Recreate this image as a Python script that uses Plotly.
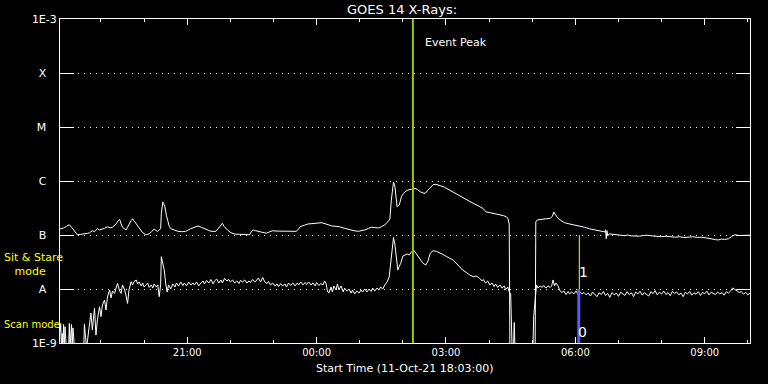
import pandas as pd
import plotly.graph_objects as go

START = "2021-10-11 18:03:00"
END = "2021-10-12 10:03:00"

# Long channel (1-8 A), minutes after start, flux in units of 1e-7 W/m^2
long_min = [0, 5, 9, 13, 17, 20, 24, 29, 34, 38, 41, 45, 48, 52, 55, 59, 62, 66, 70, 73, 76, 78, 81, 83, 85, 87, 90, 92, 94, 96,
            99, 101, 104, 108, 111, 115, 120, 124, 127, 131, 134, 136, 138, 140, 141, 143, 144, 146, 148, 150, 152, 154, 159,
            164, 170, 175, 182, 187, 192, 197, 201, 206, 210, 217, 222, 224, 226, 228, 231, 234, 238, 243, 250, 257, 264, 266,
            269, 272, 275, 281, 287, 292, 296, 302, 308, 315, 322, 329, 332, 334, 340, 345, 352, 358, 364, 370, 374, 378, 384,
            389, 396, 403, 409, 415, 420, 424, 429, 433, 438, 443, 447, 452, 456, 459, 461, 463, 464, 466, 468, 469, 472, 475,
            478, 480, 484, 487, 491, 494, 497, 501, 505, 508, 512, 515, 519, 523, 526, 530, 535, 540, 545, 548, 552, 556, 561,
            565, 570, 575, 580, 585, 589, 591, 593, 598, 603, 608, 612, 617, 621, 623, 625, 626, 661, 662, 664, 670, 676, 682,
            685, 687, 689, 693, 697, 702, 709, 716, 723, 730, 737, 744, 751, 756, 758, 759, 760, 761, 762, 764, 767, 771, 776,
            781, 786, 790, 795, 800, 806, 812, 818, 824, 831, 837, 843, 849, 856, 862, 868, 874, 880, 887, 893, 900, 907, 912,
            916, 920, 925, 930, 934, 939, 945, 950, 955, 960]
long_e7 = [1.29, 1.35, 1.45, 1.55, 1.35, 1.20, 1.01, 1.03, 1.04, 1.07, 1.10, 1.20, 1.15, 1.31, 1.24, 1.28, 1.33, 1.42, 1.36, 1.39,
           1.48, 1.60, 1.85, 1.95, 1.60, 1.39, 1.30, 1.24, 1.40, 1.60, 1.85, 2.00, 1.75, 1.47, 1.28, 1.10, 1.01, 1.05, 1.14, 1.28,
           1.20, 1.17, 1.25, 1.31, 2.5, 4.08, 3.8, 3.34, 2.3, 1.76, 1.45, 1.31, 1.22, 1.17, 1.15, 1.17, 1.31, 1.40, 1.47, 1.38,
           1.31, 1.22, 1.17, 1.17, 1.39, 1.55, 1.65, 1.45, 1.31, 1.20, 1.10, 1.04, 1.03, 1.02, 1.01, 1.15, 1.24, 1.20, 1.17, 1.12,
           1.08, 1.15, 1.20, 1.18, 1.17, 1.16, 1.17, 1.17, 1.30, 1.42, 1.52, 1.60, 1.63, 1.67, 1.69, 1.60, 1.55, 1.47, 1.45, 1.42,
           1.33, 1.24, 1.20, 1.17, 1.20, 1.24, 1.32, 1.39, 1.37, 1.35, 1.42, 1.55, 1.75, 1.98, 4.44, 9.4, 9.6, 7.8, 4.5, 3.34,
           3.59, 5.12, 5.9, 6.33, 6.8, 7.0, 7.2, 7.3, 7.0, 6.33, 6.0, 5.92, 6.81, 7.6, 8.5, 8.7, 8.5, 8.1, 7.65, 7.0, 6.45, 6.1,
           5.74, 5.3, 4.84, 4.45, 4.14, 3.85, 3.59, 3.30, 3.07, 2.85, 2.67, 2.60, 2.52, 2.45, 2.37, 2.28, 2.18, 2.04, 1.6, 0.005,
           0.005, 1.75, 1.90, 1.95, 2.0, 2.04, 2.2, 2.67, 2.4, 2.04, 1.85, 1.69, 1.60, 1.54, 1.46, 1.39, 1.30, 1.24, 1.19, 1.15,
           1.14, 1.25, 0.85, 1.20, 0.96, 1.05, 1.04, 1.02, 1.00, 0.99, 0.97, 1.00, 0.96, 0.96, 0.95, 0.98, 0.99, 0.96, 0.94, 0.93,
           0.95, 0.92, 0.91, 0.93, 0.90, 0.91, 0.93, 0.90, 0.91, 0.88, 0.83, 0.82, 0.81, 0.84, 0.83, 0.85, 0.93, 1.01, 0.98, 0.99,
           0.98, 0.99]

# Short channel (0.5-4 A), minutes after start, flux in units of 1e-8 W/m^2
short_min = [0, 1, 2, 3, 4, 5, 6, 7, 8, 9, 12, 13, 14, 15, 16, 17, 18, 19, 20, 33, 34, 35, 37, 40, 43, 45, 48, 50, 52, 55, 57,
             59, 62, 64, 66, 69, 71, 73, 76, 78, 80, 83, 85, 87, 90, 92, 94, 96, 99, 101, 103, 106, 108, 110, 113, 115, 117, 120,
             122, 124, 127, 129, 131, 134, 136, 138, 140, 141, 143, 145, 147, 149, 151, 154, 157, 160, 162, 165, 168, 171, 173,
             176, 179, 182, 185, 187, 190, 193, 196, 199, 201, 204, 207, 210, 213, 215, 218, 221, 224, 226, 229, 232, 235, 237,
             240, 243, 246, 249, 251, 254, 257, 260, 263, 265, 268, 271, 274, 276, 279, 282, 285, 288, 290, 293, 296, 299, 302,
             304, 307, 310, 313, 315, 318, 321, 324, 327, 330, 332, 335, 338, 341, 343, 346, 349, 352, 355, 357, 360, 363, 366,
             368, 370, 372, 374, 377, 379, 381, 384, 386, 388, 391, 394, 396, 399, 402, 405, 407, 410, 413, 416, 419, 421, 424,
             427, 430, 433, 435, 438, 441, 444, 446, 449, 452, 455, 458, 460, 462, 464, 466, 467, 470, 471, 474, 477, 483, 486,
             489, 492, 495, 498, 502, 505, 509, 512, 515, 519, 524, 528, 533, 538, 542, 547, 551, 556, 560, 566, 570, 575, 579,
             584, 587, 589, 592, 595, 598, 601, 604, 606, 609, 612, 615, 618, 620, 623, 625, 627, 629, 631, 632, 633, 658, 659,
             662, 663, 665, 668, 671, 673, 676, 679, 682, 684, 686, 688, 690, 693, 695, 698, 701, 704, 707, 709, 712, 715, 718,
             721, 723, 726, 729, 732, 735, 738, 741, 744, 747, 750, 753, 756, 759, 762, 765, 768, 771, 774, 777, 780, 783, 786,
             789, 792, 795, 798, 801, 804, 807, 810, 813, 816, 819, 822, 825, 828, 831, 834, 837, 840, 843, 846, 849, 852, 855,
             858, 861, 864, 867, 870, 873, 876, 879, 882, 885, 888, 891, 894, 897, 900, 903, 906, 909, 912, 915, 918, 921, 924,
             927, 930, 933, 936, 939, 942, 945, 948, 951, 954, 957, 960]
short_e8 = [0.16, 0.23, 0.08, 0.15, 0.08, 0.22, 0.08, 0.20, 0.12, 0.08, 0.08, 0.23, 0.08, 0.17, 0.22, 0.08, 0.19, 0.13, 0.08, 0.08,
            0.225, 0.153, 0.08, 0.174, 0.359, 0.174, 0.444, 0.14, 0.267, 0.47, 0.307, 0.505, 0.625, 0.408, 0.71, 0.96, 0.68, 0.92,
            0.83, 1.04, 1.27, 0.92, 0.83, 1.19, 0.96, 0.74, 0.54, 0.96, 1.37, 1.19, 1.37, 1.47, 1.24, 1.35, 1.14, 1.29, 1.09, 1.19,
            1.29, 1.07, 1.19, 1.04, 1.24, 1.09, 1.19, 0.72, 1.19, 3.97, 3.16, 2.25, 1.29, 0.88, 1.19, 1.0, 1.24, 1.09, 1.29, 1.14,
            1.35, 1.16, 1.29, 1.14, 1.35, 1.19, 1.29, 1.19, 1.35, 1.14, 1.29, 1.41, 1.24, 1.44, 1.29, 1.5, 1.24, 1.41, 1.53, 1.29,
            1.47, 1.29, 1.58, 1.41, 1.5, 1.35, 1.47, 1.29, 1.41, 1.26, 1.44, 1.35, 1.47, 1.29, 1.41, 1.32, 1.5, 1.35, 1.47, 1.6,
            1.35, 1.63, 1.35, 1.26, 1.38, 1.19, 1.29, 1.14, 1.24, 1.11, 1.26, 1.14, 1.24, 1.09, 1.29, 1.16, 1.29, 1.14, 1.29, 1.19,
            1.35, 1.19, 1.32, 1.21, 1.35, 1.19, 1.29, 1.14, 1.32, 1.16, 1.26, 1.19, 1.41, 1.29, 0.92, 0.84, 1.09, 0.88, 1.14, 0.96,
            1.24, 0.96, 1.14, 0.88, 1.04, 0.92, 1.0, 0.84, 0.96, 0.81, 0.92, 0.84, 0.96, 0.88, 1.0, 0.88, 1.0, 0.9, 1.04, 0.92,
            1.04, 0.96, 1.09, 1.0, 1.19, 1.35, 1.67, 2.78, 5.27, 9.0, 6.52, 5.27, 2.25, 2.45, 2.99, 4.08, 4.44, 4.26, 4.9, 5.27,
            4.64, 4.08, 3.44, 2.99, 2.78, 3.30, 4.58, 5.12, 4.95, 4.70, 4.35, 3.97, 3.67, 3.44, 3.03, 2.52, 2.25, 2.0, 1.82, 1.69,
            1.74, 1.58, 1.41, 1.5, 1.29, 1.41, 1.19, 1.29, 1.11, 1.24, 1.07, 1.19, 1.04, 1.14, 0.98, 1.09, 0.88, 0.83, 0.08, 0.08,
            0.24, 0.08, 0.08, 0.307, 0.96, 1.19, 1.04, 1.14, 1.07, 1.16, 1.04, 1.14, 1.07, 1.14, 1.47, 1.14, 1.29, 1.14, 0.96, 0.86,
            0.92, 0.79, 0.9, 0.81, 0.88, 0.81, 0.92, 0.79, 0.9, 0.81, 0.86, 0.78, 0.84, 0.74, 0.88, 0.80, 0.72, 0.85, 0.79, 0.90,
            0.76, 0.83, 0.70, 0.86, 0.78, 0.84, 0.73, 0.87, 0.80, 0.76, 0.89, 0.79, 0.85, 0.72, 0.88, 0.81, 0.91, 0.77, 0.86, 0.80,
            0.74, 0.89, 0.82, 0.93, 0.78, 0.87, 0.81, 0.92, 0.79, 0.86, 0.75, 0.90, 0.83, 0.88, 0.78, 0.84, 0.72, 0.87, 0.81, 0.90,
            0.77, 0.85, 0.80, 0.89, 0.76, 0.86, 0.82, 0.91, 0.78, 0.87, 0.83, 0.79, 0.88, 0.81, 0.86, 0.77, 0.89, 0.84, 0.92, 1.05,
            0.98, 0.93, 0.86, 0.90, 0.80, 0.87, 0.78, 0.84]

event_peak_time = "2021-10-12 02:14:00"
scan_time = "2021-10-12 06:04:45"
stare_time = "2021-10-12 06:05:30"
levels = [1e-9, 1e-8, 1e-7, 1e-6, 1e-5, 1e-4, 1e-3]
level_labels = ["1E-9", "A", "B", "C", "M", "X", "1E-3"]
x_tick_times = ["2021-10-11 21:00", "2021-10-12 00:00", "2021-10-12 03:00", "2021-10-12 06:00", "2021-10-12 09:00"]
x_tick_text = ["21:00", "00:00", "03:00", "06:00", "09:00"]

t0 = pd.Timestamp(START)
long_t = t0 + pd.to_timedelta(long_min, unit="m")
short_t = t0 + pd.to_timedelta(short_min, unit="m")
long_flux = [v * 1e-7 for v in long_e7]
short_flux = [v * 1e-8 for v in short_e8]

FONT = "DejaVu Sans"
fig = go.Figure()
fig.add_trace(go.Scatter(x=long_t, y=long_flux, mode="lines", line=dict(color="white", width=1), showlegend=False))
fig.add_trace(go.Scatter(x=short_t, y=short_flux, mode="lines", line=dict(color="white", width=1), showlegend=False))
fig.add_trace(go.Scatter(x=[event_peak_time, event_peak_time], y=[levels[0], levels[-1]], mode="lines",
                         line=dict(color="#99CC00", width=2), showlegend=False))
fig.add_trace(go.Scatter(x=[scan_time, scan_time], y=[levels[0], levels[1]], mode="lines",
                         line=dict(color="#5A5AFF", width=3), showlegend=False))
fig.add_trace(go.Scatter(x=[stare_time, stare_time], y=[levels[1], levels[2]], mode="lines",
                         line=dict(color="#FFFF00", width=1), showlegend=False))
# invisible trace so the top (mirror) time axis is drawn with its hourly ticks
fig.add_trace(go.Scatter(x=[START, END], y=[levels[0], levels[0]], mode="lines", xaxis="x2",
                         line=dict(color="rgba(0,0,0,0)", width=0), showlegend=False, hoverinfo="skip"))

nb = "\u00a0"
ytext = [t if len(t) > 1 else t + nb * 3 for t in level_labels]

fig.update_layout(
    width=768, height=384, autosize=False,
    margin=dict(l=60, r=18, t=19, b=41),
    paper_bgcolor="black", plot_bgcolor="black",
    font=dict(family=FONT, color="white", size=11),
    xaxis=dict(type="date", range=[START, END], tickvals=x_tick_times, ticktext=x_tick_text,
               ticks="inside", ticklen=6, tickcolor="white", tickwidth=1,
               minor=dict(dtick=3600000, tick0="2021-10-11 19:00", ticks="inside", ticklen=3,
                          tickcolor="white", showgrid=False),
               showline=True, linecolor="white", linewidth=1, mirror=True,
               showgrid=False, zeroline=False, tickfont=dict(size=10, family=FONT, color="white")),
    xaxis2=dict(type="date", range=[START, END], overlaying="x", side="top", tickvals=x_tick_times,
                showticklabels=False, ticks="inside", ticklen=6, tickcolor="white", tickwidth=1,
                minor=dict(dtick=3600000, tick0="2021-10-11 19:00", ticks="inside", ticklen=3,
                           tickcolor="white", showgrid=False),
                showline=False, showgrid=False, zeroline=False),
    yaxis=dict(type="log", range=[-9, -3], tickvals=levels, ticktext=ytext,
               ticks="inside", ticklen=14, tickcolor="white", tickwidth=1,
               showline=True, linecolor="white", linewidth=1, mirror="ticks",
               showgrid=True, gridcolor="white", gridwidth=1, griddash="1px,5px",
               zeroline=False, tickfont=dict(size=11, family=FONT, color="white")),
    annotations=[
        dict(text="GOES 14 X-Rays:", xref="paper", yref="paper", x=0.4952, y=1.0278, xanchor="center",
             yanchor="middle", showarrow=False, font=dict(size=13, color="white", family=FONT)),
        dict(text="Start Time (11-Oct-21 18:03:00)", xref="paper", yref="paper", x=0.4997, y=-0.0772,
             xanchor="center", yanchor="middle", showarrow=False, font=dict(size=11, color="white", family=FONT)),
        dict(text="Event Peak", xref="x", yref="y", x="2021-10-12 02:28", y=-3.444, xanchor="left",
             yanchor="middle", showarrow=False, font=dict(size=11, color="white", family=FONT)),
        dict(text="Sit & Stare<br>" + nb * 3 + "mode", xref="paper", yref="paper", x=-0.0845, y=0.2417,
             xanchor="left", yanchor="middle", align="left", showarrow=False,
             font=dict(size=11, color="#FFFF00", family=FONT)),
        dict(text="Scan mode", xref="paper", yref="paper", x=-0.0845, y=0.0586, xanchor="left",
             yanchor="middle", showarrow=False, font=dict(size=10, color="#FFFF00", family=FONT)),
        dict(text="1", xref="x", yref="y", x="2021-10-12 06:12", y=-7.680, xanchor="center",
             yanchor="middle", showarrow=False, font=dict(size=14, color="white", family=FONT)),
        dict(text="0", xref="x", yref="y", x="2021-10-12 06:10", y=-8.796, xanchor="center",
             yanchor="middle", showarrow=False, font=dict(size=14, color="white", family=FONT)),
    ],
)

fig.write_html("out.html")
